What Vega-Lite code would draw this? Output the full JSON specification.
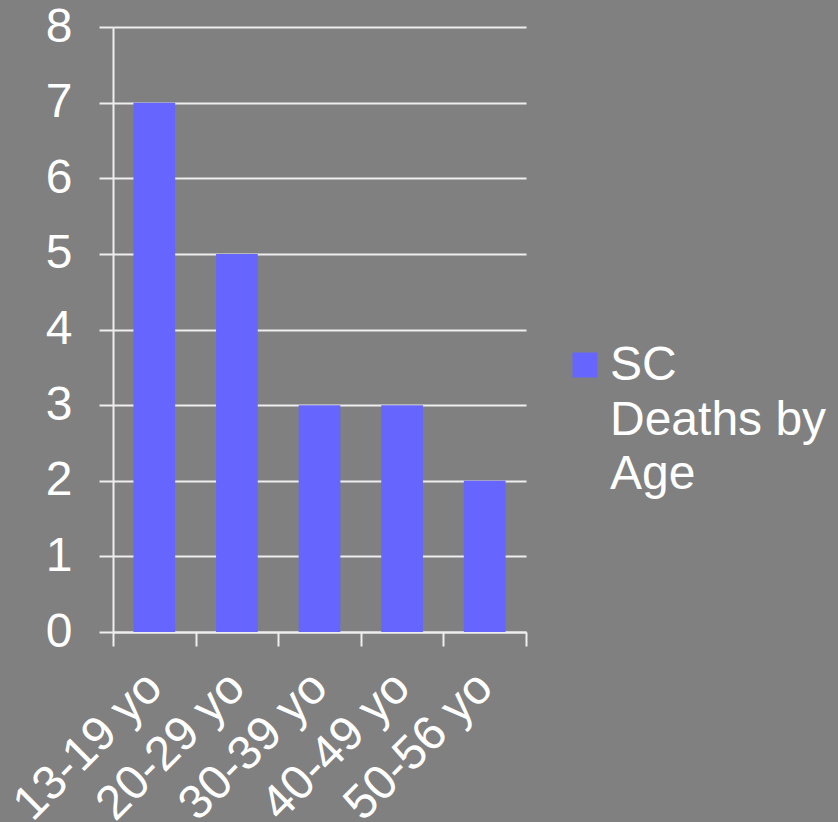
{
  "$schema": "https://vega.github.io/schema/vega-lite/v6.json",
  "autosize": {"type": "none"},
  "width": 413,
  "height": 605,
  "padding": {"left": 113, "top": 27, "right": 312, "bottom": 190},
  "background": "#808080",
  "config": {"view": {"stroke": null}, "font": "Liberation Sans"},
  "data": {
    "values": [
      {"age": "13-19 yo", "deaths": 7, "series": "SC Deaths by Age"},
      {"age": "20-29 yo", "deaths": 5, "series": "SC Deaths by Age"},
      {"age": "30-39 yo", "deaths": 3, "series": "SC Deaths by Age"},
      {"age": "40-49 yo", "deaths": 3, "series": "SC Deaths by Age"},
      {"age": "50-56 yo", "deaths": 2, "series": "SC Deaths by Age"}
    ]
  },
  "mark": {"type": "bar", "width": {"band": 0.505}},
  "encoding": {
    "x": {
      "field": "age",
      "type": "nominal",
      "sort": null,
      "scale": {"paddingInner": 0, "paddingOuter": 0},
      "axis": {
        "title": null,
        "labelAngle": -45,
        "labelAlign": "right",
        "labelBaseline": "middle",
        "labelFont": "Liberation Sans",
        "labelFontSize": 48,
        "labelColor": "white",
        "labelPadding": 34,
        "labelLimit": 400,
        "labelOverlap": false,
        "domainColor": "#eeeeee",
        "domainWidth": 2,
        "tickColor": "#eeeeee",
        "tickWidth": 2,
        "tickSize": 14,
        "tickBand": "extent"
      }
    },
    "y": {
      "field": "deaths",
      "type": "quantitative",
      "scale": {"domain": [0, 8], "nice": false},
      "axis": {
        "title": null,
        "values": [0, 1, 2, 3, 4, 5, 6, 7, 8],
        "grid": true,
        "gridColor": "#eeeeee",
        "gridWidth": 2,
        "gridOpacity": 1,
        "domainColor": "#eeeeee",
        "domainWidth": 2,
        "tickColor": "#eeeeee",
        "tickWidth": 2,
        "tickSize": 14,
        "labelFont": "Liberation Sans",
        "labelFontSize": 48,
        "labelColor": "white",
        "labelPadding": 27
      }
    },
    "color": {
      "field": "series",
      "type": "nominal",
      "scale": {"range": ["#6666ff"]},
      "legend": {
        "title": null,
        "orient": "none",
        "legendX": 448,
        "legendY": 314,
        "symbolType": "square",
        "symbolSize": 625,
        "symbolStrokeWidth": 0,
        "symbolOpacity": 1,
        "labelFont": "Liberation Sans",
        "labelFontSize": 48,
        "labelColor": "white",
        "labelOffset": 1,
        "labelLimit": 400,
        "labelBaseline": "alphabetic",
        "labelExpr": "['SC', 'Deaths by', 'Age']",
        "encoding": {
          "labels": {"lineHeight": {"value": 54.5}, "dy": {"value": 15}}
        }
      }
    }
  }
}
